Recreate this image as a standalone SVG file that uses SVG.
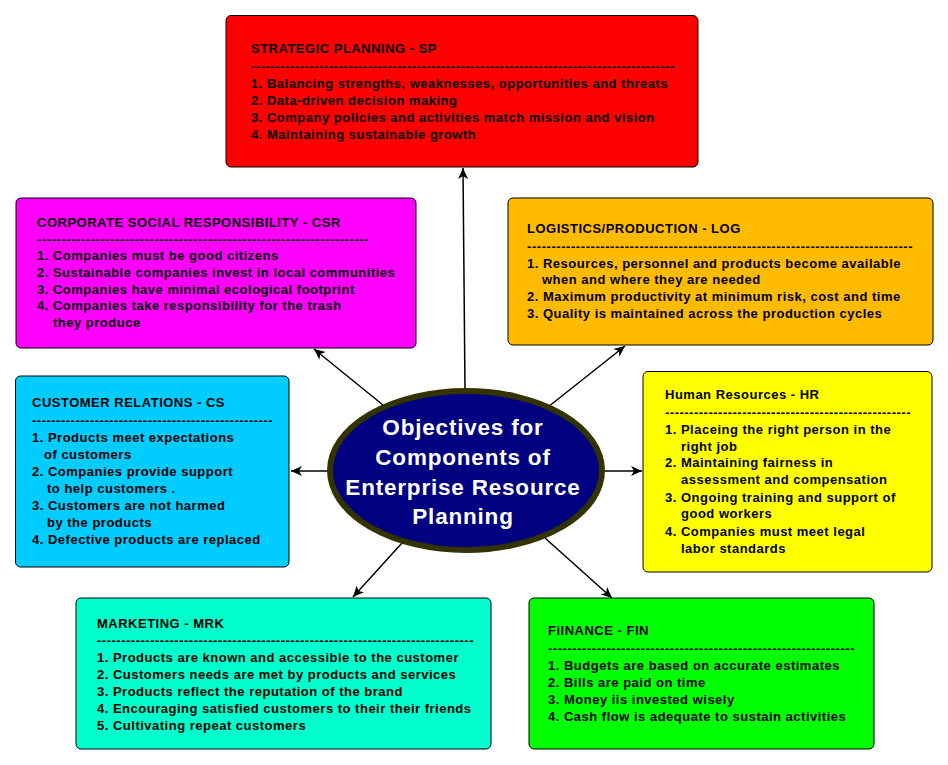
<svg xmlns="http://www.w3.org/2000/svg" width="948" height="765" viewBox="0 0 948 765">
<style>
.bx{stroke:#000;stroke-width:1}
.t{font-family:"Liberation Sans",Arial,sans-serif;font-weight:bold;font-size:13px;letter-spacing:0.5px;fill:#000}
.c{font-family:"Liberation Sans",Arial,sans-serif;font-weight:bold;font-size:22.5px;letter-spacing:0.8px;fill:#fff;text-anchor:middle}
.ln{stroke:#000;stroke-width:1.5;fill:none;marker-end:url(#ah)}
</style>
<defs>
<marker id="ah" markerUnits="userSpaceOnUse" markerWidth="12" markerHeight="10" refX="11" refY="5" orient="auto">
<path d="M0,0 L11,5 L0,10 L3,5 z" fill="#000"/>
</marker>
</defs>
<rect width="948" height="765" fill="#fff"/>
<g id="connectors">
<path class="ln" d="M465,390 L463,168"/>
<path class="ln" d="M383,405 L314,349"/>
<path class="ln" d="M548,407 L625,346"/>
<path class="ln" d="M330,471 L291,471"/>
<path class="ln" d="M603,471 L642,471"/>
<path class="ln" d="M402,543 L353,597"/>
<path class="ln" d="M545,538 L612,598"/>
</g>
<g id="sp">
<rect class="bx" x="226" y="15.5" width="472" height="151.5" rx="5" fill="#ff0000"/>
<text class="t" x="251" y="53">STRATEGIC PLANNING - SP</text>
<text class="t" x="251" y="71" textLength="424" lengthAdjust="spacing">---------------------------------------------------------------------------------------</text>
<text class="t" x="251" y="88">1. Balancing strengths, weaknesses, opportunities and threats</text>
<text class="t" x="251" y="105">2. Data-driven decision making</text>
<text class="t" x="251" y="122">3. Company policies and activities match mission and vision</text>
<text class="t" x="251" y="139">4. Maintaining sustainable growth</text>
</g>
<g id="csr">
<rect class="bx" x="16" y="198" width="400" height="150" rx="5" fill="#ff00ff"/>
<text class="t" x="37" y="227">CORPORATE SOCIAL RESPONSIBILITY - CSR</text>
<text class="t" x="37" y="244" textLength="332" lengthAdjust="spacing">--------------------------------------------------------------------</text>
<text class="t" x="37" y="260">1. Companies must be good citizens</text>
<text class="t" x="37" y="277">2. Sustainable companies invest in local communities</text>
<text class="t" x="37" y="294">3. Companies have minimal ecological footprint</text>
<text class="t" x="37" y="310">4. Companies take responsibility for the trash</text>
<text class="t" x="53" y="327">they produce</text>
</g>
<g id="log">
<rect class="bx" x="508" y="198" width="425" height="147" rx="5" fill="#ffbb00"/>
<text class="t" x="527" y="233">LOGISTICS/PRODUCTION - LOG</text>
<text class="t" x="527" y="251" textLength="386" lengthAdjust="spacing">-------------------------------------------------------------------------------</text>
<text class="t" x="527" y="268">1. Resources, personnel and products become available</text>
<text class="t" x="542" y="284">when and where they are needed</text>
<text class="t" x="527" y="301">2. Maximum productivity at minimum risk, cost and time</text>
<text class="t" x="527" y="318">3. Quality is maintained across the production cycles</text>
</g>
<g id="cs">
<rect class="bx" x="15.5" y="376" width="273.5" height="191" rx="5" fill="#00ccff"/>
<text class="t" x="32" y="407">CUSTOMER RELATIONS - CS</text>
<text class="t" x="32" y="425" textLength="241" lengthAdjust="spacing">--------------------------------------------------</text>
<text class="t" x="32" y="442">1. Products meet expectations</text>
<text class="t" x="44" y="459">of customers</text>
<text class="t" x="32" y="476">2. Companies provide support</text>
<text class="t" x="47" y="493">to help customers .</text>
<text class="t" x="32" y="510">3. Customers are not harmed</text>
<text class="t" x="47" y="527">by the products</text>
<text class="t" x="32" y="544">4. Defective products are replaced</text>
</g>
<g id="hr">
<rect class="bx" x="643" y="371.5" width="289" height="200.5" rx="5" fill="#ffff00"/>
<text class="t" x="665" y="399">Human Resources - HR</text>
<text class="t" x="665" y="417" textLength="246" lengthAdjust="spacing">---------------------------------------------------</text>
<text class="t" x="665" y="434">1. Placeing the right person in the</text>
<text class="t" x="681" y="451">right job</text>
<text class="t" x="665" y="467">2. Maintaining fairness in</text>
<text class="t" x="681" y="484">assessment and compensation</text>
<text class="t" x="665" y="502">3. Ongoing training and support of</text>
<text class="t" x="681" y="518">good workers</text>
<text class="t" x="665" y="536">4. Companies must meet legal</text>
<text class="t" x="681" y="553">labor standards</text>
</g>
<g id="mrk">
<rect class="bx" x="76" y="598" width="415" height="151" rx="5" fill="#00ffcc"/>
<text class="t" x="97" y="628">MARKETING - MRK</text>
<text class="t" x="97" y="645" textLength="377" lengthAdjust="spacing">------------------------------------------------------------------------------</text>
<text class="t" x="97" y="662">1. Products are known and accessible to the customer</text>
<text class="t" x="97" y="679">2. Customers needs are met by products and services</text>
<text class="t" x="97" y="696">3. Products reflect the reputation of the brand</text>
<text class="t" x="97" y="713">4. Encouraging satisfied customers to their their friends</text>
<text class="t" x="97" y="730">5. Cultivating repeat customers</text>
</g>
<g id="fin">
<rect class="bx" x="529" y="598" width="345" height="151" rx="5" fill="#00ff00"/>
<text class="t" x="548" y="635">FiINANCE - FIN</text>
<text class="t" x="548" y="653" textLength="307" lengthAdjust="spacing">---------------------------------------------------------------</text>
<text class="t" x="548" y="670">1. Budgets are based on accurate estimates</text>
<text class="t" x="548" y="687">2. Bills are paid on time</text>
<text class="t" x="548" y="704">3. Money iis invested wisely</text>
<text class="t" x="548" y="721">4. Cash flow is adequate to sustain activities</text>
</g>
<g id="center">
<ellipse cx="466" cy="470.5" rx="136" ry="79.5" fill="#000080" stroke="#333300" stroke-width="6"/>
<text class="c" x="463" y="435">Objectives for</text>
<text class="c" x="463" y="465">Components of</text>
<text class="c" x="463" y="495">Enterprise Resource</text>
<text class="c" x="463" y="524">Planning</text>
</g>
</svg>
